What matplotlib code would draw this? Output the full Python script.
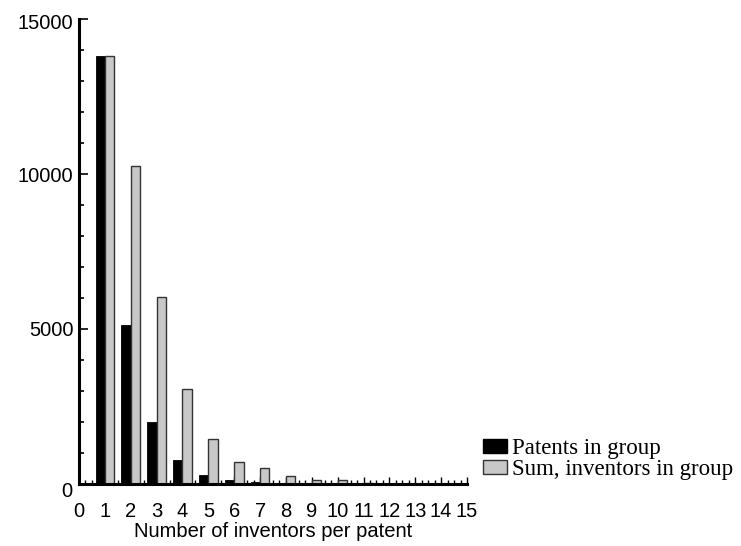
import matplotlib
matplotlib.use("Agg")
import matplotlib.pyplot as plt
from matplotlib.patches import Patch
from matplotlib.ticker import MultipleLocator, FixedLocator
from matplotlib.transforms import ScaledTranslation
import numpy as np

inventors = [1, 2, 3, 4, 5, 6, 7, 8, 9, 10, 11, 12, 13, 14, 15]
patents = [13800, 5130, 2010, 770, 291, 120, 74, 34, 15, 13, 2, 1, 1, 0, 1]
sum_inventors = [13800, 10260, 6030, 3080, 1455, 720, 518, 272, 135, 130, 22, 12, 13, 0, 15]
x_ticks = list(range(0, 16))
y_ticks = [0, 5000, 10000, 15000]
series_labels = ["Patents in group", "Sum, inventors in group"]

W, H = 741, 546
fig = plt.figure(figsize=(W / 100, H / 100), dpi=100)
ax = fig.add_axes([79 / W, 62 / H, (467 - 79) / W, (484 - 19) / H])

bw = 0.36
x = np.array(inventors)
ax.bar(x - bw / 2, patents, width=bw, color="black", edgecolor="black", linewidth=0.6, zorder=3)
ax.bar(x + bw / 2, sum_inventors, width=bw, color="#c8c8c8", edgecolor="#333333", linewidth=1.0, zorder=3)

ax.set_xlim(0, 15)
ax.set_ylim(0, 15000)
for s in ["top", "right"]:
    ax.spines[s].set_visible(False)
for s in ["left", "bottom"]:
    ax.spines[s].set_linewidth(2.2)
    ax.spines[s].set_zorder(4)

ax.xaxis.set_major_locator(FixedLocator(x_ticks))
ax.xaxis.set_minor_locator(MultipleLocator(0.25))
ax.yaxis.set_major_locator(FixedLocator(y_ticks))
ax.yaxis.set_minor_locator(MultipleLocator(1000))
ax.set_xticklabels([str(t) for t in x_ticks])
ax.set_yticklabels([str(t) for t in y_ticks])

ax.tick_params(axis="y", which="major", direction="in", length=6.5, width=1.2, pad=4, labelsize=14.5)
ax.tick_params(axis="y", which="minor", direction="in", length=3.8, width=1.2)
ax.tick_params(axis="x", which="major", direction="in", length=5, width=1.0, pad=13, labelsize=14.5)
ax.tick_params(axis="x", which="minor", direction="in", length=3, width=1.0)
for lab in ax.get_xticklabels() + ax.get_yticklabels():
    lab.set_family("Liberation Sans")
ylabs = ax.get_yticklabels()
ylabs[0].set_transform(ylabs[0].get_transform() + ScaledTranslation(-1 / 72, -4 / 72, fig.dpi_scale_trans))
ylabs[-1].set_transform(ylabs[-1].get_transform() + ScaledTranslation(0, -2 / 72, fig.dpi_scale_trans))

ax.set_xlabel("Number of inventors per patent", family="Liberation Sans", fontsize=14.5, labelpad=1)

handles = [Patch(facecolor="black", edgecolor="black"),
           Patch(facecolor="#c8c8c8", edgecolor="#333333")]
fig.legend(handles, series_labels, loc="upper left", bbox_to_anchor=(483 / W, 1 - 438 / H),
           frameon=False, prop={"family": "Liberation Serif", "size": 16.5},
           handlelength=1.05, handleheight=0.55, handletextpad=0.2, labelspacing=0.0,
           borderpad=0, borderaxespad=0)

fig.savefig("out.png", dpi=100)
